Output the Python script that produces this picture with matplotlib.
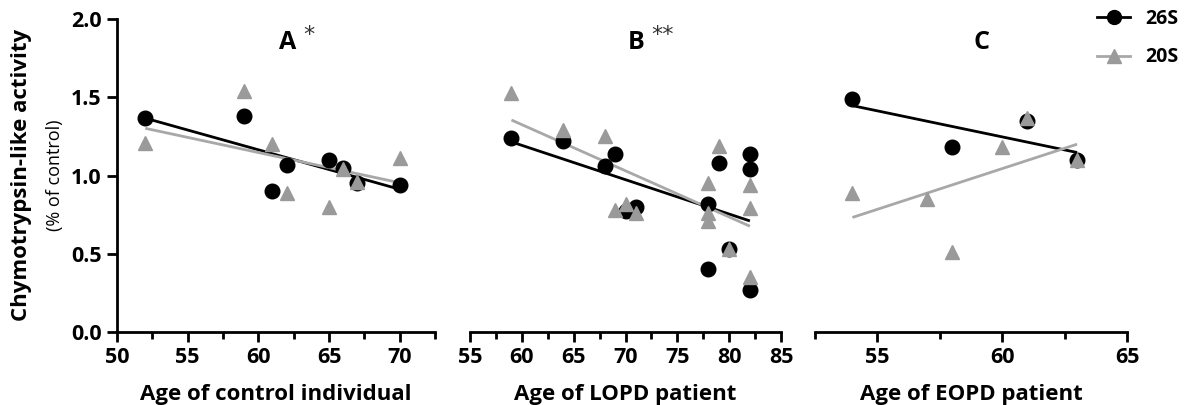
import matplotlib
matplotlib.use("Agg")
import matplotlib.pyplot as plt
import numpy as np
from matplotlib.lines import Line2D
from matplotlib.ticker import MultipleLocator

plt.rcParams["font.family"] = ["Open Sans", "DejaVu Sans"]
plt.rcParams["font.weight"] = "bold"

# panel A: control individuals
age_ctrl_26s = [52, 59, 61, 62, 65, 66, 67, 70]
act_ctrl_26s = [1.37, 1.38, 0.90, 1.07, 1.10, 1.05, 0.95, 0.94]
age_ctrl_20s = [52, 59, 61, 62, 65, 66, 67, 70]
act_ctrl_20s = [1.21, 1.54, 1.20, 0.89, 0.80, 1.04, 0.96, 1.11]

# panel B: LOPD patients
age_lopd_26s = [59, 64, 68, 69, 70, 71, 78, 78, 79, 80, 82, 82, 82]
act_lopd_26s = [1.24, 1.22, 1.06, 1.14, 0.77, 0.80, 0.82, 0.40, 1.08, 0.53, 1.14, 1.04, 0.27]
age_lopd_20s = [59, 64, 68, 69, 70, 71, 78, 78, 78, 79, 80, 82, 82, 82]
act_lopd_20s = [1.53, 1.29, 1.25, 0.78, 0.82, 0.76, 0.95, 0.76, 0.71, 1.19, 0.53, 0.94, 0.79, 0.35]

# panel C: EOPD patients
age_eopd_26s = [54, 58, 61, 63]
act_eopd_26s = [1.49, 1.18, 1.35, 1.10]
age_eopd_20s = [54, 57, 58, 60, 61, 63]
act_eopd_20s = [0.89, 0.85, 0.51, 1.18, 1.37, 1.10]

BLACK = "#000000"
GREY_PT = "#9a9a9a"
GREY_LN = "#a8a8a8"

W, H = 1188, 405
fig = plt.figure(figsize=(W / 100, H / 100), dpi=100)


def px_axes(left, right, top=19, bottom=332):
    return fig.add_axes([left / W, (H - bottom) / H, (right - left) / W, (bottom - top) / H])


def fit_line(ax, x, y, color):
    x = np.asarray(x, float)
    k, b = np.polyfit(x, y, 1)
    xs = np.array([x.min(), x.max()])
    ax.plot(xs, k * xs + b, color=color, linewidth=2.0, zorder=3, solid_capstyle="butt")


def draw_panel(ax, x26, y26, x20, y20, xlim, letter, stars, xlabel, show_y):
    ax.plot(x26, y26, "o", color=BLACK, markersize=10.5, zorder=4, clip_on=False)
    fit_line(ax, x26, y26, BLACK)
    ax.plot(x20, y20, "^", color=GREY_PT, markersize=10.5, zorder=5, clip_on=False)
    fit_line(ax, x20, y20, GREY_LN)

    ax.set_xlim(*xlim)
    ax.set_ylim(0, 2.0)
    ax.xaxis.set_major_locator(MultipleLocator(5))
    ax.xaxis.set_minor_locator(MultipleLocator(2.5))
    ax.yaxis.set_major_locator(MultipleLocator(0.5))
    for s in ("top", "right"):
        ax.spines[s].set_visible(False)
    for s in ("left", "bottom"):
        ax.spines[s].set_linewidth(2.0)
    ax.tick_params(axis="both", which="major", length=7, width=2.0, labelsize=15.5, pad=4)
    ax.tick_params(axis="x", which="minor", length=5, width=2.0)
    if show_y:
        ax.yaxis.set_major_formatter(plt.FormatStrFormatter("%.1f"))
    else:
        ax.spines["left"].set_visible(False)
        ax.tick_params(axis="y", which="both", left=False, labelleft=False)
    ax.set_xlabel(xlabel, fontsize=16, fontweight="bold", labelpad=11)
    ax.text(0.535, 0.925, letter, transform=ax.transAxes, ha="center", va="center",
            fontsize=18, fontweight="bold")
    if stars:
        ax.text(0.535 + 0.07 * (1 + 0.2 * (len(stars) - 1)), 0.95, stars,
                transform=ax.transAxes, ha="center", va="center", fontsize=16,
                fontweight="normal", color="#333333", family="DejaVu Sans")
    plt.setp(ax.get_xticklabels() + ax.get_yticklabels(), fontweight="bold")


ax_a = px_axes(117, 435)
ax_b = px_axes(470, 781)
ax_c = px_axes(815, 1127)

draw_panel(ax_a, age_ctrl_26s, act_ctrl_26s, age_ctrl_20s, act_ctrl_20s,
           (50, 72.5), "A", "*", "Age of control individual", True)
draw_panel(ax_b, age_lopd_26s, act_lopd_26s, age_lopd_20s, act_lopd_20s,
           (55, 85), "B", "**", "Age of LOPD patient", False)
draw_panel(ax_c, age_eopd_26s, act_eopd_26s, age_eopd_20s, act_eopd_20s,
           (52.5, 65), "C", "", "Age of EOPD patient", False)

fig.text(22 / W, 1 - 175 / H, "Chymotrypsin-like activity", rotation=90, ha="center",
         va="center", fontsize=16, fontweight="bold")
fig.text(55 / W, 1 - 175 / H, "(% of control)", rotation=90, ha="center", va="center",
         fontsize=13, fontweight="normal")

handles = [
    Line2D([], [], color=BLACK, marker="o", markersize=10, linewidth=2.0),
    Line2D([], [], color=GREY_LN, marker="^", markersize=10, markerfacecolor=GREY_PT,
           markeredgecolor=GREY_PT, linewidth=2.0),
]
fig.legend(handles, ["26S", "20S"], loc="upper left",
           bbox_to_anchor=(1097 / W, 1 - 9 / H), frameon=False,
           borderpad=0, borderaxespad=0,
           handlelength=1.7, handletextpad=0.8, labelspacing=0.95,
           prop={"weight": "bold", "size": 14})

fig.savefig("out.png", dpi=100)
